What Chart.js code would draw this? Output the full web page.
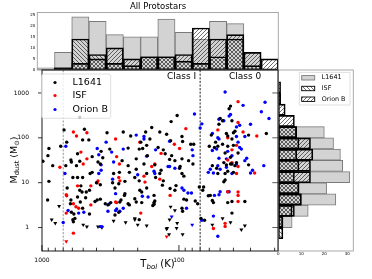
<!DOCTYPE html>
<html>
<head>
<meta charset="utf-8">
<script src="https://cdn.jsdelivr.net/npm/chart.js@4.4.1/dist/chart.umd.min.js"></script>
<style>
  html, body { margin: 0; padding: 0; background: #fff; }
  #wrap { position: relative; width: 372px; height: 279px; }
  canvas { position: absolute; left: 0; top: 0; }
</style>
</head>
<body>
<div id="wrap">
  <canvas id="tophist" width="372" height="279"></canvas>
  <canvas id="sidehist" width="372" height="279"></canvas>
  <canvas id="scatter" width="372" height="279"></canvas>
</div>
<script>
// ---- data: [Tbol (K), Mdust (Msun)] ----
const l1641 = [
  [690,150],[490,155],[505,90],[455,90],[335,130],[255,135],[225,110],[175,135],[190,80],
  [890,58],[730,65],[660,80],[905,40],[985,30],[835,24],[615,32],[550,44],[560,24],[530,30],
  [430,38],[370,50],[360,36],[320,56],[260,31],[235,59],[205,34],[195,56],[170,40],
  [103,315],[114,230],[158,170],[138,135],[123,120],[95,107],[94,83],[115,86],[82,72],[78,72],
  [163,94],[172,68],[142,61],[130,54],[126,44],[184,58],[113,40],[95,34],[85,31],[79,26],[98,23],
  [50,270],[48,240],[51,200],[41,240],[39,140],[40,130],[23,125],[45,125],[44,110],[58,115],
  [41,94],[31,115],[54,80],[55,61],[52,65],[48,72],[60,65],[44,65],[40,68],[46,46],[42,37],
  [37,46],[38,28],[41,26],[47,28],[45,25],[42,510],[43,445],
  [670,24],[610,29],[445,16],[430,17],[390,29],[375,26],[300,16],[272,17],[235,24],[230,17],
  [205,20],[210,13],[195,11],[172,16],[890,10.7],[910,4.1],[655,7.6],[615,4.1],[620,3.4],
  [610,2.2],[585,2.0],[575,1.6],[595,1.5],[590,1.35],[595,13],[550,13],[505,13],[520,8.5],
  [530,6.8],[510,6.2],[550,4.8],[475,6.2],[450,6.8],[480,4.6],[525,3.7],[505,2.7],[400,10],
  [375,9],[395,4.1],[375,4.3],[410,3.8],[450,2.0],[305,10],[275,9.5],[248,10.7],[293,7.6],
  [248,5.7],[250,5.2],[330,3.2],[345,3.4],[265,4.1],[270,3.7],[293,1.9],[275,2.2],[210,4.4],
  [205,3.7],[172,7.6],[187,3.6],[195,1.5],[315,3.6],[235,3.4],[230,3.2],[155,3.1],[152,3.6],
  [180,26],[150,25],[148,13],[193,6.8],[187,6.2],[152,5.2],[150,3.9],[152,3.3],[138,16],
  [135,19],[130,11],[132,8.8],[117,33],[107,31],[99,21],[95,16],[92,14],[116,7.4],[107,6.8],
  [105,8.6],[92,4.3],[88,4.1],[95,2.7],[94,2.3],[76,3.9],[73,3.4],[67,6.8],[71,8],[66,8],
  [57,24],[53,21],[52,16],[46,16],[44,18],[40,17],[42,26],[39,24],[31,25],[47,10.5],[46,11.5],
  [59,5.2],[61,5.1],[57,4],[56,3.6],[44,3.6],[41,3.8],[41,2.1],[33,3.8],[69,1.6],[65,1.45],
  [530,290]
];
const l1641Lim = [
  [750,3.0],[850,1.5],[800,1.25],[500,1.15],[470,1.05],[390,1.05],[365,1.0],[300,1.4],[245,1.3],
  [210,1.5],[200,1.15],[172,1.1],[122,0.97],[118,0.7],[115,2.9],[107,2.4],[117,1.5],[103,1.25],
  [104,0.97],[123,0.93],[94,0.7],[57,1.15],[48,1.6],[42,1.3],[35,0.9],[33,1.1],[210,1.6]
];
const isf = [
  [590,135],[560,110],[470,130],[520,48],[740,22],[470,34],[290,94],[285,38],[89,160],[108,72],
  [99,58],[193,80],[135,45],[158,23],[150,26],[37,640],[37,220],[52,150],[44,100],[34,135],
  [27,110],[38,68],[41,54],[37,23],[500,26],[272,26],[177,10.3],[180,14],[665,5.4],[660,5.1],
  [665,2.1],[590,3.4],[565,2.9],[540,2.7],[550,8.5],[440,8.5],[395,10],[390,11],[440,3.2],
  [590,0.75],[270,11],[275,13],[290,3.7],[190,2.1],[138,12],[116,5.2],[285,3.6],
  [44,32],[41,28],[38,16],[28,16.5],[44,6.3],[37,6.2],[37,5.2],[37,3.8],[56,0.95],[46,1.24],[46,1.06]
];
const isfLim = [[665,0.49],[123,0.63]];
const orionB = [
  [340,80],[205,115],[180,94],[670,65],[395,58],[385,42],[370,25],[310,48],[255,56],[46,1050],
  [34,530],[23.5,620],[25,380],[77,340],[70,165],[68,205],[180,107],[117,84],[80,54],[148,54],
  [172,39],[79,40],[120,23],[51,260],[47,240],[42,330],[43,305],[38,175],[36,190],[30,200],
  [22,270],[57,125],[52,100],[51,94],[38,107],[33,107],[37,80],[36,61],[35,56],[57,52],[53,56],
  [44,50],[41,40],[45,34],[32,35],[33,31],[51,35],[24,24],[680,16],[385,16],[370,19],[300,29],
  [200,15],[700,1.3],[645,2.4],[305,12],[290,5.7],[330,2.3],[290,2.4],[255,2.7],[185,5],
  [375,1.05],[365,1.05],[540,2.1],[495,2.2],[325,3.3],[285,2.6],[270,2.3],[150,16],[152,18],
  [168,4.8],[117,23],[107,21],[95,7.6],[92,6.8],[86,5.9],[81,5.9],[88,2.7],[61,17],[59,20],
  [56,16.5],[52,24],[50,20],[45,22],[38,26],[41,16],[30,16.5],[29,19],[50,6.3],[51,5.4],
  [44,6.3],[43,6.3],[55,5.2],[68,1.45],[56,1.8],[52,0.64]
];
const orionBLim = [[113,1.75],[80,1.15]];

const seriesNames = ['L1641', 'ISF', 'Orion B'];
const seriesColors = ['#000000', '#ff0000', '#0000ff'];
const classBounds = [700, 70];
const classNames = ['Class I', 'Class 0'];

// top histogram (Tbol bins, hot -> cold)
const topBins = ['1','2','3','4','5','6','7','8','9','10','11','12','13','14'];
const topL1641 = [1, 8, 24, 22, 16, 15, 15, 23, 17, 14, 22, 21, 8, 0];
const topIsf   = [0, 1, 14, 7, 3, 2, 6, 6, 4, 3, 6, 14, 2, 0];
const topOrionB= [0, 1, 3, 5, 10, 5, 6, 6, 7, 19, 14, 16, 8, 5];
const topTicks = [0, 5, 10, 15, 20, 25];

// side histogram (Mdust bins, 0.25 dex)
const massBinCentres = [0.75, 1.33, 2.37, 4.22, 7.5, 13.3, 23.7, 42.2, 75, 133, 237, 422, 750, 1334];
const sideL1641 = [0, 6, 13, 25, 21, 31, 28, 27, 24, 20, 0, 0, 0, 0];
const sideIsf   = [2, 2, 6, 10, 9, 7, 9, 8, 9, 8, 0, 0, 1, 0];
const sideOrionB= [0, 2, 7, 10, 9, 14, 14, 15, 14, 8, 7, 3, 1, 1];
const sideTicks = [0, 10, 20, 30];

const xTicksMajor = [1000, 100];
const xTicksMinor = [20, 30, 40, 50, 60, 70, 80, 90, 200, 300, 400, 500, 600, 700, 800, 900];
const yTicksMajor = [1, 10, 100, 1000];

Chart.defaults.font.family = "'DejaVu Sans', sans-serif";
Chart.defaults.color = '#000';

const GRAY = '#d3d3d3';
const GRAY_EDGE = '#7a7a7a';

function hatch(ctx, dir) {
  const c = document.createElement('canvas');
  c.width = 4; c.height = 4;
  const g = c.getContext('2d');
  g.strokeStyle = 'rgba(0,0,0,0.8)';
  g.lineWidth = 0.7;
  g.beginPath();
  if (dir === '/') {
    g.moveTo(0, 4); g.lineTo(4, 0);
    g.moveTo(-1, 1); g.lineTo(1, -1);
    g.moveTo(3, 5); g.lineTo(5, 3);
  } else {
    g.moveTo(0, 0); g.lineTo(4, 4);
    g.moveTo(-1, 3); g.lineTo(1, 5);
    g.moveTo(3, -1); g.lineTo(5, 1);
  }
  g.stroke();
  return ctx.createPattern(c, 'repeat');
}

function mixedText(ctx, parts, cx, baseY) {
  let w = 0;
  parts.forEach(p => { ctx.font = (p.it ? 'italic ' : '') + p.s + "px 'DejaVu Sans'"; p.w = ctx.measureText(p.t).width; w += p.w; });
  let x = cx - w / 2;
  ctx.textAlign = 'left';
  ctx.textBaseline = 'alphabetic';
  parts.forEach(p => {
    ctx.font = (p.it ? 'italic ' : '') + p.s + "px 'DejaVu Sans'";
    ctx.fillText(p.t, x, baseY + (p.dy || 0));
    x += p.w;
  });
}

function frame(ctx, a, color) {
  ctx.save();
  ctx.strokeStyle = color;
  ctx.lineWidth = 0.9;
  ctx.strokeRect(a.left, a.top, a.right - a.left, a.bottom - a.top);
  ctx.restore();
}

function toPoints(arr) { return arr.map(p => ({ x: p[0], y: p[1] })); }

// ---------------- scatter ----------------
const scatterDecor = {
  id: 'scatterDecor',
  beforeDatasetsDraw(chart) {
    const { ctx, chartArea: a, scales: { x } } = chart;
    ctx.save();
    ctx.lineWidth = 0.9;
    classBounds.forEach((t, i) => {
      const px = x.getPixelForValue(t);
      ctx.strokeStyle = i === 0 ? '#8a8a8a' : '#111';
      ctx.setLineDash([2.2, 1.4]);
      ctx.beginPath(); ctx.moveTo(px, a.top); ctx.lineTo(px, a.bottom); ctx.stroke();
    });
    ctx.restore();
  },
  afterDatasetsDraw(chart) {
    const { ctx, chartArea: a, scales: { x, y } } = chart;
    frame(ctx, a, '#000');
    ctx.save();
    ctx.strokeStyle = '#000';
    ctx.lineWidth = 0.8;
    ctx.beginPath();
    xTicksMajor.forEach(v => { const px = x.getPixelForValue(v); ctx.moveTo(px, a.bottom); ctx.lineTo(px, a.bottom - 6); });
    xTicksMinor.forEach(v => { const px = x.getPixelForValue(v); ctx.moveTo(px, a.bottom); ctx.lineTo(px, a.bottom - 3.3); });
    yTicksMajor.forEach(v => { const py = y.getPixelForValue(v); ctx.moveTo(a.left, py); ctx.lineTo(a.left - 4, py); });
    ctx.stroke();

    // class labels
    ctx.fillStyle = '#000';
    ctx.font = "9px 'DejaVu Sans'";
    ctx.textBaseline = 'middle';
    const b = x.getPixelForValue(classBounds[1]);
    ctx.textAlign = 'right';
    ctx.fillText(classNames[0], b - 4, a.top + 6.5);
    ctx.textAlign = 'center';
    ctx.fillText(classNames[1], b + 45, a.top + 6.5);

    // legend
    const lx = 41.7, ly = 74, lw = 69, lh = 44.3, r = 2;
    ctx.beginPath();
    ctx.moveTo(lx + r, ly); ctx.lineTo(lx + lw - r, ly); ctx.quadraticCurveTo(lx + lw, ly, lx + lw, ly + r);
    ctx.lineTo(lx + lw, ly + lh - r); ctx.quadraticCurveTo(lx + lw, ly + lh, lx + lw - r, ly + lh);
    ctx.lineTo(lx + r, ly + lh); ctx.quadraticCurveTo(lx, ly + lh, lx, ly + lh - r);
    ctx.lineTo(lx, ly + r); ctx.quadraticCurveTo(lx, ly, lx + r, ly);
    ctx.closePath();
    ctx.fillStyle = 'rgba(255,255,255,0.8)';
    ctx.fill();
    ctx.strokeStyle = '#d8d8d8';
    ctx.lineWidth = 0.8;
    ctx.stroke();
    ctx.font = "9.5px 'DejaVu Sans'";
    ctx.textAlign = 'left';
    ctx.textBaseline = 'middle';
    const rows = [82.5, 95.5, 109.5];
    seriesNames.forEach((n, i) => {
      ctx.fillStyle = seriesColors[i];
      ctx.beginPath(); ctx.arc(55, rows[i], 1.6, 0, Math.PI * 2); ctx.fill();
      ctx.fillStyle = '#000';
      ctx.fillText(n, 72.5, rows[i] + 0.5);
    });

    // axis titles
    mixedText(ctx, [{ t: 'T', s: 10 }, { t: 'bol', s: 7, dy: 2, it: true }, { t: ' (K)', s: 10 }], 157.5, 266.5);
    ctx.translate(16.5, 160);
    ctx.rotate(-Math.PI / 2);
    mixedText(ctx, [{ t: 'M', s: 9.5 }, { t: 'dust', s: 6.7, dy: 2 }, { t: ' (M', s: 9.5 }, { t: '\u2299', s: 6.7, dy: 2 }, { t: ')', s: 9.5 }], 0, 0);
    ctx.restore();
  }
};

function scatterSet(arr, color, tri) {
  return {
    data: toPoints(arr),
    backgroundColor: color,
    borderWidth: 0,
    pointStyle: tri ? 'triangle' : 'circle',
    rotation: tri ? 180 : 0,
    pointRadius: tri ? 2.3 : 1.7
  };
}

new Chart(document.getElementById('scatter'), {
  type: 'scatter',
  data: {
    datasets: [
      scatterSet(l1641, seriesColors[0], false),
      scatterSet(isf, seriesColors[1], false),
      scatterSet(orionB, seriesColors[2], false),
      scatterSet(l1641Lim, seriesColors[0], true),
      scatterSet(isfLim, seriesColors[1], true),
      scatterSet(orionBLim, seriesColors[2], true)
    ]
  },
  options: {
    responsive: false,
    animation: false,
    layout: { padding: { left: 0, top: 70, right: 94, bottom: 0 } },
    plugins: { legend: { display: false }, tooltip: { enabled: false } },
    scales: {
      x: {
        type: 'logarithmic', reverse: true, min: 18.9, max: 1000,
        grid: { display: false, drawTicks: false }, border: { display: false },
        afterFit: s => { s.height = 28; },
        afterBuildTicks: s => { s.ticks = xTicksMajor.map(v => ({ value: v })); },
        ticks: { autoSkip: false, maxRotation: 0, padding: 6, font: { size: 6 }, callback: v => String(v) }
      },
      y: {
        type: 'logarithmic', min: 0.33, max: 3250,
        grid: { display: false, drawTicks: false }, border: { display: false },
        afterFit: s => { s.width = 42; },
        afterBuildTicks: s => { s.ticks = yTicksMajor.map(v => ({ value: v })); },
        ticks: { autoSkip: false, padding: 13, font: { size: 6 }, callback: v => String(v) }
      }
    }
  },
  plugins: [scatterDecor]
});

// ---------------- top histogram ----------------
const topCanvas = document.getElementById('tophist');
const topCtx = topCanvas.getContext('2d');
const nz = arr => arr.map(v => (v === 0 ? null : v));

new Chart(topCanvas, {
  type: 'bar',
  data: {
    labels: topBins,
    datasets: [
      { data: nz(topL1641), backgroundColor: GRAY, borderColor: GRAY_EDGE, borderWidth: 1, order: 3 },
      { data: nz(topIsf), backgroundColor: hatch(topCtx, '\\'), borderColor: '#000', borderWidth: 1, order: 2 },
      { data: nz(topOrionB), backgroundColor: hatch(topCtx, '/'), borderColor: '#000', borderWidth: 1, order: 1 }
    ]
  },
  options: {
    responsive: false,
    animation: false,
    layout: { padding: { left: 0, top: 12.5, right: 93.7, bottom: 209 } },
    datasets: { bar: { grouped: false, categoryPercentage: 1, barPercentage: 1, borderSkipped: false } },
    plugins: { legend: { display: false }, tooltip: { enabled: false } },
    scales: {
      x: { display: false },
      y: {
        min: 0, max: 26,
        grid: { display: false, drawTicks: false }, border: { display: false },
        afterFit: s => { s.width = 37.3; },
        afterBuildTicks: s => { s.ticks = topTicks.map(v => ({ value: v })); },
        ticks: { autoSkip: false, padding: 2, font: { size: 4 } }
      }
    }
  },
  plugins: [{
    id: 'topDecor',
    afterDatasetsDraw(chart) {
      const { ctx, chartArea: a } = chart;
      frame(ctx, a, '#a0a0a0');
      ctx.save();
      ctx.fillStyle = '#000';
      ctx.font = "8.5px 'DejaVu Sans'";
      ctx.textAlign = 'center';
      ctx.textBaseline = 'middle';
      ctx.fillText('All Protostars', 158, 6.5);
      ctx.restore();
    }
  }]
});

// ---------------- side histogram ----------------
const sideCanvas = document.getElementById('sidehist');
const sideCtx = sideCanvas.getContext('2d');
const patBack = hatch(sideCtx, '\\');
const patFwd = hatch(sideCtx, '/');
const hbars = arr => massBinCentres.map((m, i) => ({ x: arr[i] === 0 ? null : arr[i], y: m }));

new Chart(sideCanvas, {
  type: 'bar',
  data: {
    datasets: [
      { data: hbars(sideL1641), backgroundColor: GRAY, borderColor: GRAY_EDGE, borderWidth: 1, order: 3 },
      { data: hbars(sideIsf), backgroundColor: patBack, borderColor: '#000', borderWidth: 1, order: 2 },
      { data: hbars(sideOrionB), backgroundColor: patFwd, borderColor: '#000', borderWidth: 1, order: 1 }
    ]
  },
  options: {
    indexAxis: 'y',
    responsive: false,
    animation: false,
    layout: { padding: { left: 278.3, top: 70, right: 18.7, bottom: 0 } },
    datasets: { bar: { grouped: false, categoryPercentage: 1, barPercentage: 1, borderSkipped: false } },
    plugins: { legend: { display: false }, tooltip: { enabled: false } },
    scales: {
      x: {
        type: 'linear', min: 0, max: 32.6,
        grid: { display: false, drawTicks: false }, border: { display: false },
        afterFit: s => { s.height = 28; },
        afterBuildTicks: s => { s.ticks = sideTicks.map(v => ({ value: v })); },
        ticks: { autoSkip: false, maxRotation: 0, padding: 0.5, font: { size: 4 } }
      },
      y: { type: 'logarithmic', min: 0.33, max: 3250, display: false }
    }
  },
  plugins: [{
    id: 'sideDecor',
    afterDatasetsDraw(chart) {
      const { ctx, chartArea: a, scales: { y } } = chart;
      frame(ctx, a, '#a0a0a0');
      ctx.save();
      ctx.strokeStyle = '#333';
      ctx.lineWidth = 0.8;
      ctx.beginPath();
      yTicksMajor.forEach(v => { const py = y.getPixelForValue(v); ctx.moveTo(a.left, py); ctx.lineTo(a.left - 6, py); });
      ctx.stroke();

      // legend
      ctx.fillStyle = 'rgba(255,255,255,0.8)';
      ctx.strokeStyle = '#d8d8d8';
      ctx.fillRect(299.3, 72.3, 50.7, 32.7);
      ctx.strokeRect(299.3, 72.3, 50.7, 32.7);
      const fills = [GRAY, patBack, patFwd];
      const edges = [GRAY_EDGE, '#000', '#000'];
      const rows = [77.8, 88.5, 99.2];
      ctx.font = "6.4px 'DejaVu Sans'";
      ctx.textAlign = 'left';
      ctx.textBaseline = 'middle';
      seriesNames.forEach((n, i) => {
        ctx.fillStyle = fills[i];
        ctx.fillRect(301.7, rows[i] - 2.2, 13, 4.4);
        ctx.strokeStyle = edges[i];
        ctx.lineWidth = 0.9;
        ctx.strokeRect(301.7, rows[i] - 2.2, 13, 4.4);
        ctx.fillStyle = '#000';
        ctx.fillText(n, 321.7, rows[i]);
      });
      ctx.restore();
    }
  }]
});
</script>
</body>
</html>
